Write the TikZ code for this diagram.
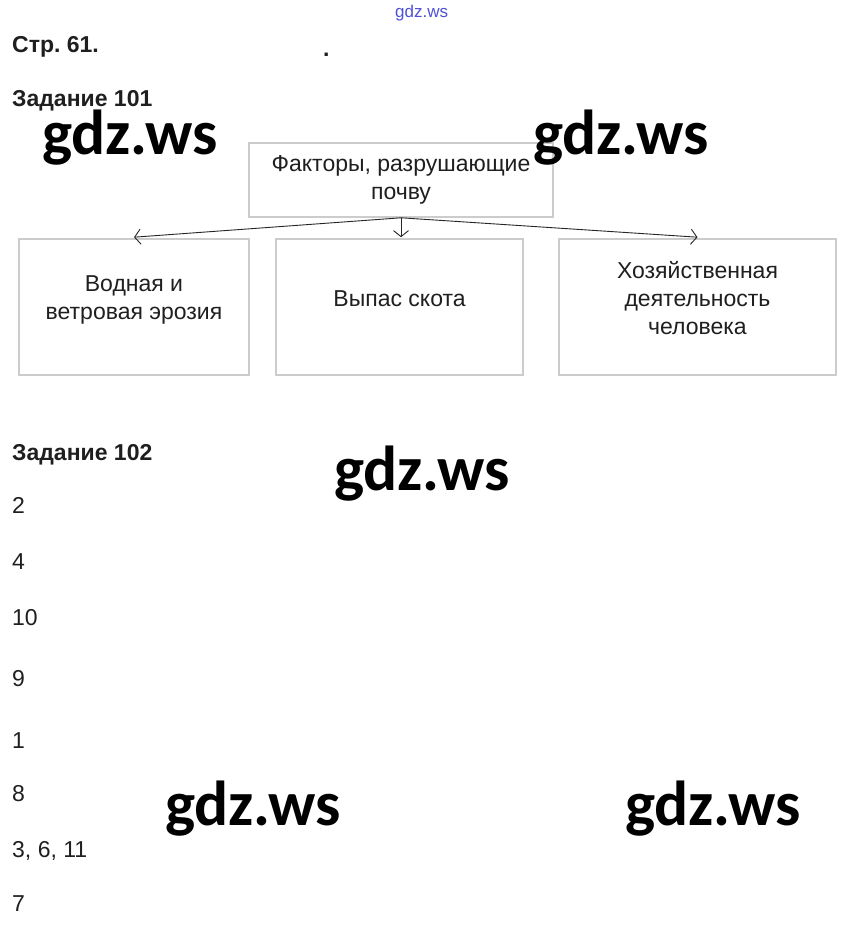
\documentclass[tikz,border=0pt]{standalone}
\usepackage{fontspec}
\setmainfont{Liberation Sans}
\newfontfamily\wmfont{Carlito}
\usepackage{tikz}
\usetikzlibrary{arrows.meta}
\usetikzlibrary{positioning}
\frenchspacing
\tikzstyle{arrow}=[->,>={Straight Barb[length=6pt,width=15pt]},line width=0.9pt,color=black!85]
\tikzstyle{factor}=[draw=black!20,line width=1.6pt,inner sep=0pt]
\tikzstyle{boxtext}=[align=center,font=\fontsize{23}{28}\selectfont,text=black!88]
\tikzstyle{plain}=[anchor=base west,inner sep=0pt,font=\fontsize{23}{28}\selectfont,text=black!88]
\tikzstyle{head}=[plain,font=\fontsize{23}{28}\selectfont\bfseries]
\tikzstyle{watermark}=[anchor=base west,inner sep=0pt,font=\wmfont\bfseries\fontsize{63.5}{64}\selectfont]
\begin{document}
\begin{tikzpicture}[x=1pt,y=-1pt]
            \useasboundingbox[fill=white] (0,0) rectangle (846,926);
            % headers
            \node[anchor=base west,inner sep=0pt,font=\fontsize{17}{17}\selectfont,text={rgb,255:red,80;green,80;blue,215}] (site) at (395,17) {gdz.ws};
            \node[head] (page) at (12,52) {Стр. 61.};
            \node[head] (dot) at (323,56) {.};
            \node[head] (task1) at (12,106) {Задание 101};
            % scheme
            \node[factor,minimum width=304pt,minimum height=74pt] (soil) at (401,180) {};
            \node[boxtext] at (soil.center) {Факторы, разрушающие\\почву};
            \node[factor,minimum width=230pt,minimum height=136pt] (erosion) at (134,307) {};
            \node[boxtext] at ([yshift=7pt]erosion.center) {Водная и\\ветровая эрозия};
            \node[factor,minimum width=247pt,minimum height=136pt] (grazing) at (399.5,307) {};
            \node[boxtext] at ([yshift=8pt]grazing.center) {Выпас скота};
            \node[factor,minimum width=277pt,minimum height=136pt] (human) at (697.5,307) {};
            \node[boxtext] at ([yshift=9pt]human.center) {Хозяйственная\\деятельность\\человека};
            \draw[arrow] (soil.south) -- ([yshift=1pt]erosion.north);
            \draw[arrow] (soil.south) -- ([yshift=1pt]soil.south |- grazing.north);
            \draw[arrow] (soil.south) -- ([yshift=1pt]human.north);
            % answers
            \node[head] (task2) at (12,460) {Задание 102};
            \node[plain] (a1) at (12,513) {2};
            \node[plain] (a2) at (12,569) {4};
            \node[plain] (a3) at (12,625) {10};
            \node[plain] (a4) at (12,686) {9};
            \node[plain] (a5) at (12,748) {1};
            \node[plain] (a6) at (12,801) {8};
            \node[plain] (a7) at (12,857) {3, 6, 11};
            \node[plain] (a8) at (12,911) {7};
            % watermarks
            \node[watermark] (wm1) at (42,154) {gdz.ws};
            \node[watermark] (wm2) at (533,154) {gdz.ws};
            \node[watermark] (wm3) at (334,490) {gdz.ws};
            \node[watermark] (wm4) at (165,825) {gdz.ws};
            \node[watermark] (wm5) at (625,825) {gdz.ws};
          \end{tikzpicture}
\end{document}
